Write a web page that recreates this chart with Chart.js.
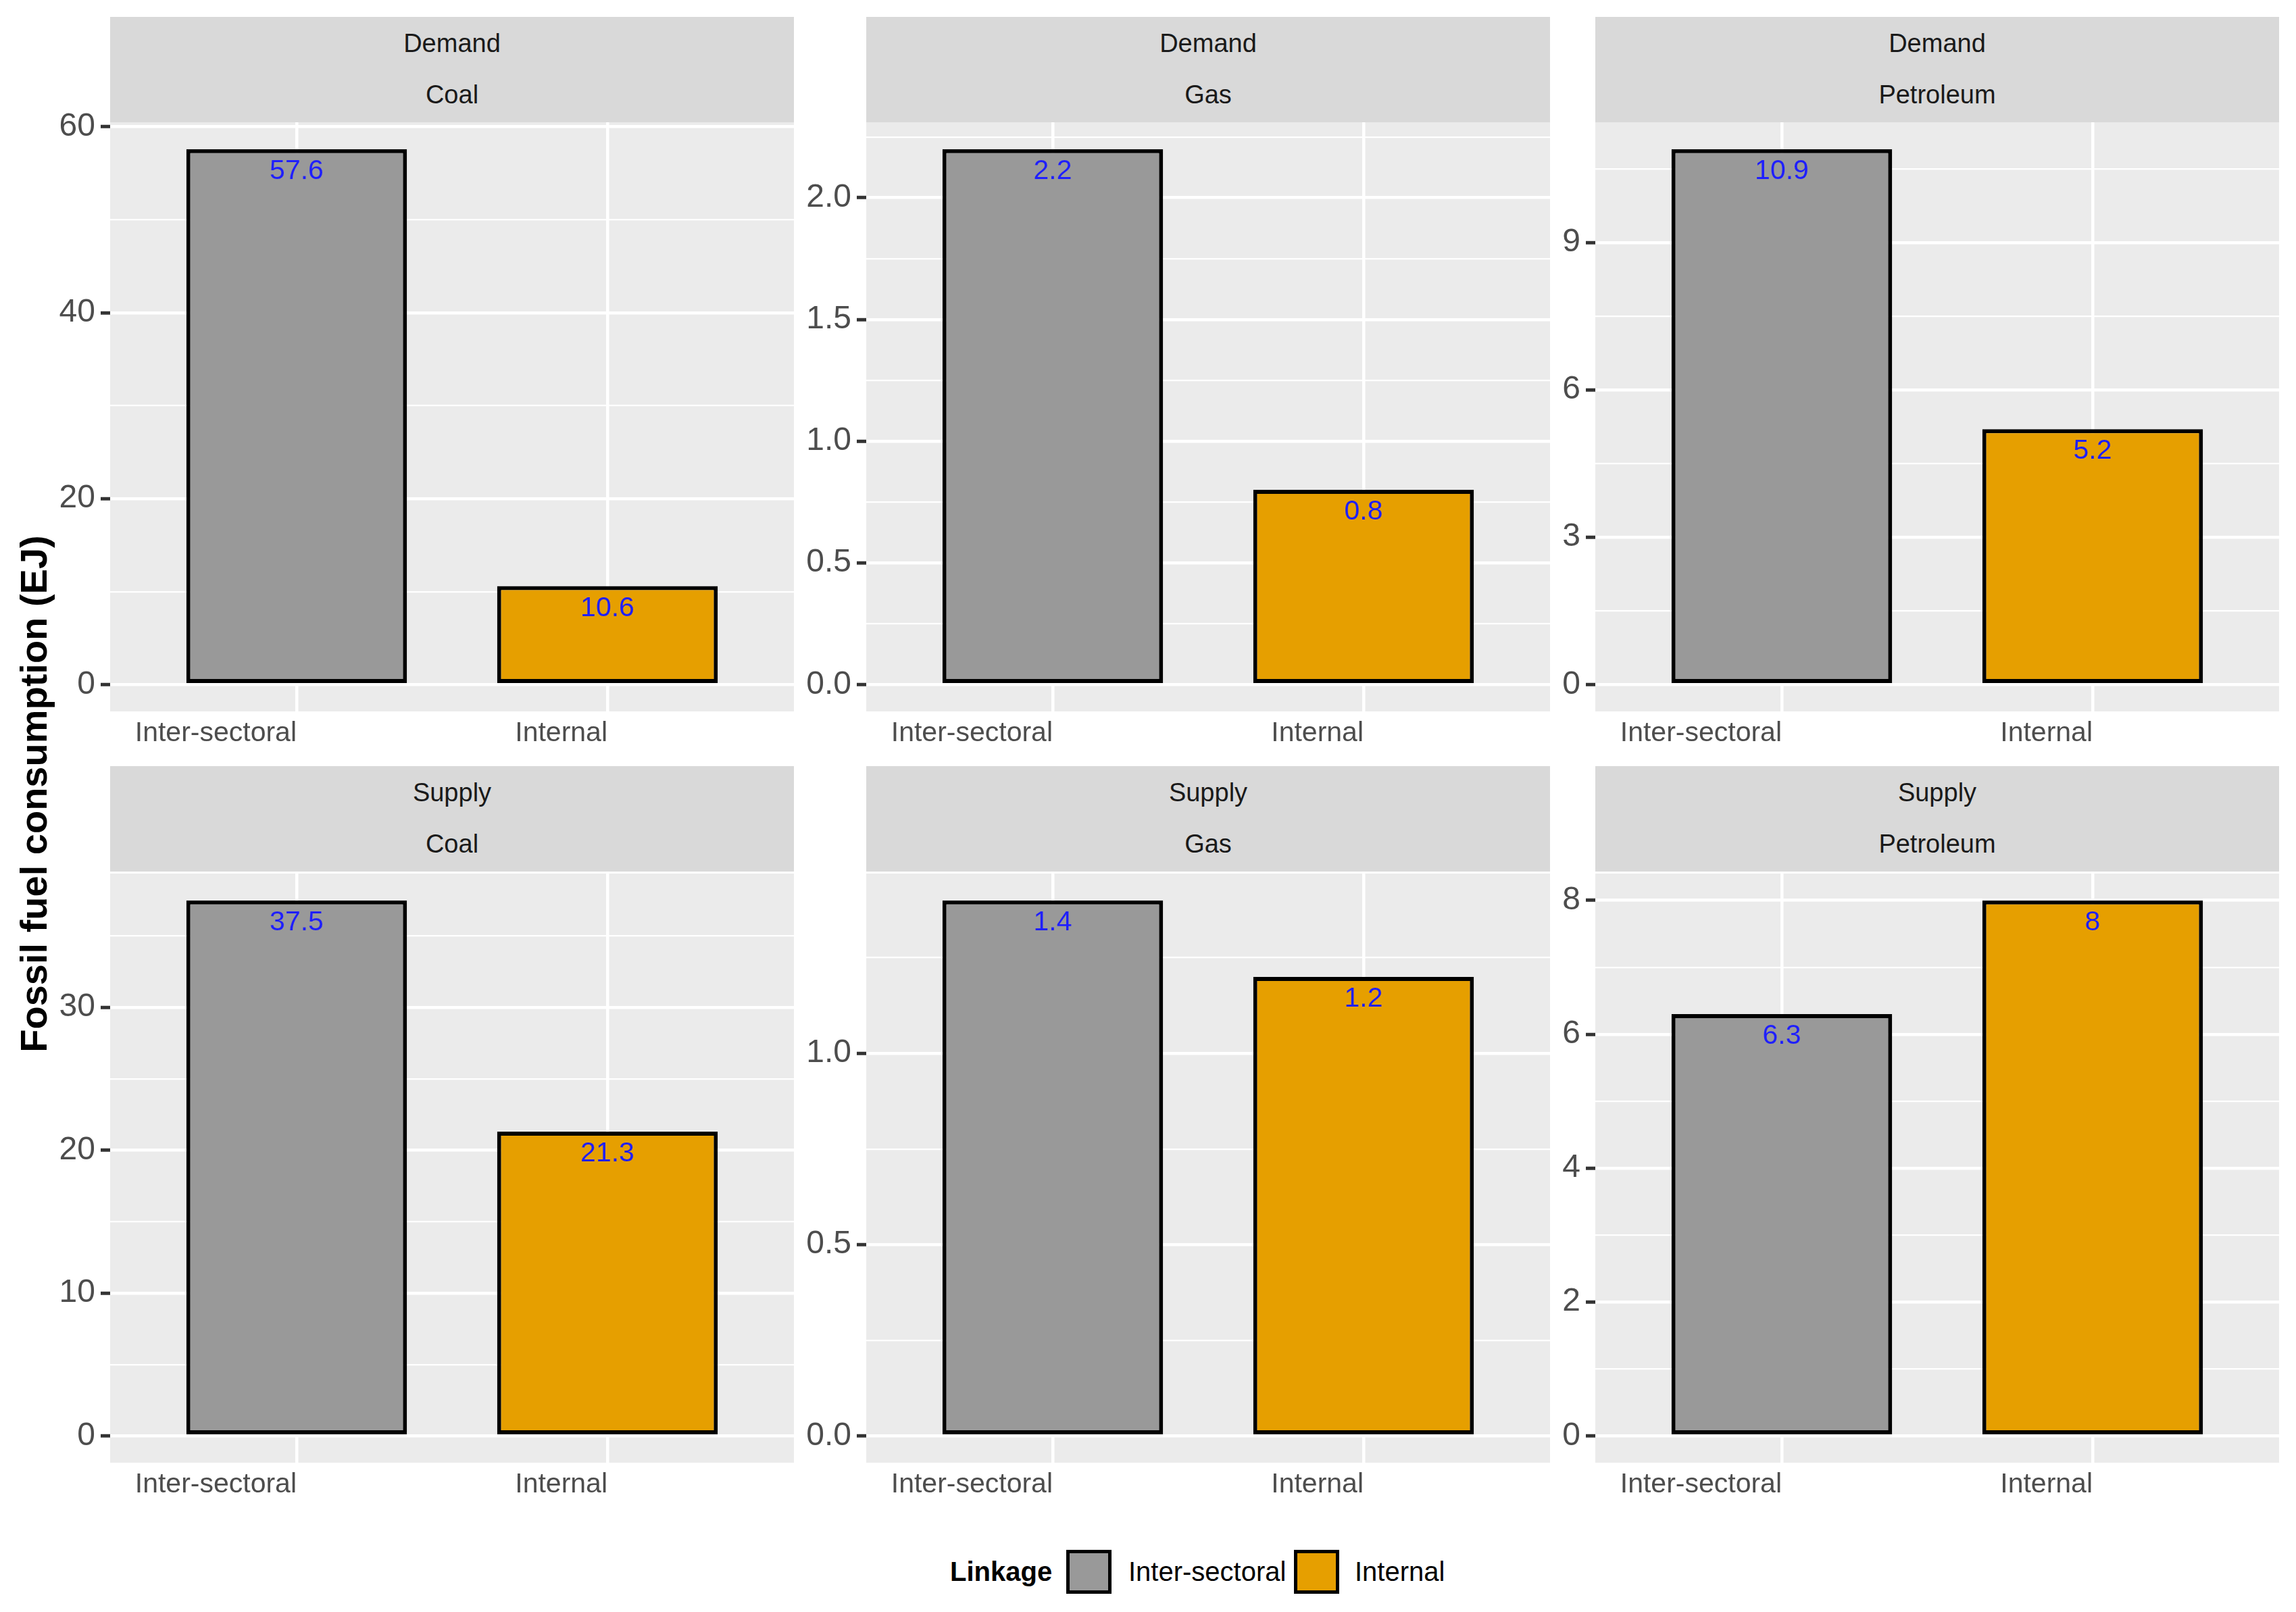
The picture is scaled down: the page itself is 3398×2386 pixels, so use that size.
<!DOCTYPE html>
<html>
<head>
<meta charset="utf-8">
<script src="https://cdn.jsdelivr.net/npm/chart.js@4.4.1/dist/chart.umd.min.js"></script>
<style>
html,body{margin:0;padding:0;background:#ffffff;}
#wrap{position:relative;width:3398px;height:2386px;overflow:hidden;font-family:'Liberation Sans',Arial,sans-serif;background:#fff;}
#wrap canvas{position:absolute;}
.strip{position:absolute;background:#D9D9D9;color:#1A1A1A;font-size:38px;}
.strip .l{position:absolute;left:0;width:100%;text-align:center;height:50px;line-height:50px;white-space:nowrap;}
#ytitle{position:absolute;left:50px;top:1175px;transform:translate(-50%,-50%) rotate(-90deg);font-weight:bold;font-size:56px;color:#000;white-space:nowrap;line-height:1;}
.lg{position:absolute;font-size:40px;color:#000;line-height:50px;height:50px;white-space:nowrap;}
.lgbox{position:absolute;box-sizing:border-box;border:5px solid #000;}
</style>
</head>
<body>
<div id="wrap"><div id="ytitle">Fossil fuel consumption (EJ)</div></div>
<script>
// ---------------- data ----------------
const categories = ['Inter-sectoral', 'Internal'];
const rowNames = ['Demand', 'Supply'];
const fuelNames = ['Coal', 'Gas', 'Petroleum'];
const legendTitle = 'Linkage';

const demandCoal      = [57.6, 10.6];
const demandGas       = [2.2, 0.8];
const demandPetroleum = [10.9, 5.2];
const supplyCoal      = [37.5, 21.3];
const supplyGas       = [1.4, 1.2];
const supplyPetroleum = [6.3, 8];

const demandCoalTicks      = [0, 20, 40, 60];
const demandCoalLabels     = ['0', '20', '40', '60'];
const demandGasTicks       = [0, 0.5, 1.0, 1.5, 2.0];
const demandGasLabels      = ['0.0', '0.5', '1.0', '1.5', '2.0'];
const demandPetroleumTicks = [0, 3, 6, 9];
const demandPetroleumLabels= ['0', '3', '6', '9'];
const supplyCoalTicks      = [0, 10, 20, 30];
const supplyCoalLabels     = ['0', '10', '20', '30'];
const supplyGasTicks       = [0, 0.5, 1.0];
const supplyGasLabels      = ['0.0', '0.5', '1.0'];
const supplyPetroleumTicks = [0, 2, 4, 6, 8];
const supplyPetroleumLabels= ['0', '2', '4', '6', '8'];

// ---------------- styles / layout ----------------
const barColors = ['#999999', '#E69F00'];
const FONT = "'Liberation Sans', Arial, sans-serif";
Chart.defaults.font.family = FONT;

const panelX = [163, 1282, 2361];
const plotTop = [181, 1293];
const stripTop = [25, 1134];
const PW = 1012, PH = 872, SH = 156;
const YAXW = 150, PADTOP = 60, XAXH = 90;

const panels = [
  {row:0, col:0, values:demandCoal, ticks:demandCoalTicks, labels:demandCoalLabels},
  {row:0, col:1, values:demandGas, ticks:demandGasTicks, labels:demandGasLabels},
  {row:0, col:2, values:demandPetroleum, ticks:demandPetroleumTicks, labels:demandPetroleumLabels},
  {row:1, col:0, values:supplyCoal, ticks:supplyCoalTicks, labels:supplyCoalLabels},
  {row:1, col:1, values:supplyGas, ticks:supplyGasTicks, labels:supplyGasLabels},
  {row:1, col:2, values:supplyPetroleum, ticks:supplyPetroleumTicks, labels:supplyPetroleumLabels}
];

const panelBg = {
  id: 'panelBg',
  beforeDraw(chart) {
    const {ctx, chartArea: a} = chart;
    ctx.save();
    ctx.fillStyle = '#EBEBEB';
    ctx.fillRect(a.left, a.top, a.right - a.left, a.bottom - a.top);
    ctx.restore();
  }
};

const valueLabels = {
  id: 'valueLabels',
  afterDatasetsDraw(chart) {
    const ctx = chart.ctx;
    ctx.save();
    ctx.font = '41px ' + FONT;
    ctx.fillStyle = '#1F1FFF';
    ctx.textAlign = 'center';
    ctx.textBaseline = 'middle';
    chart.data.datasets.forEach((ds, di) => {
      const meta = chart.getDatasetMeta(di);
      meta.data.forEach((bar, i) => {
        ctx.fillText(String(ds.data[i].y), bar.x, bar.y + 33);
      });
    });
    ctx.restore();
  }
};

const wrap = document.getElementById('wrap');

panels.forEach(p => {
  const px = panelX[p.col], pt = plotTop[p.row];
  // strip
  const s = document.createElement('div');
  s.className = 'strip';
  s.style.left = px + 'px'; s.style.top = stripTop[p.row] + 'px';
  s.style.width = PW + 'px'; s.style.height = SH + 'px';
  const l1 = document.createElement('div'); l1.className = 'l'; l1.style.top = (39 - 25) + 'px'; l1.textContent = rowNames[p.row];
  const l2 = document.createElement('div'); l2.className = 'l'; l2.style.top = (115 - 25) + 'px'; l2.textContent = fuelNames[p.col];
  s.appendChild(l1); s.appendChild(l2);
  wrap.appendChild(s);

  // canvas
  const cv = document.createElement('canvas');
  const cw = YAXW + PW, ch = PADTOP + PH + XAXH;
  cv.width = cw; cv.height = ch;
  cv.style.width = cw + 'px'; cv.style.height = ch + 'px';
  cv.style.left = (px - YAXW) + 'px'; cv.style.top = (pt - PADTOP) + 'px';
  wrap.appendChild(cv);

  const vmax = Math.max(...p.values);
  const ymin = -0.05 * vmax, ymax = 1.05 * vmax;
  const step = p.ticks[1] - p.ticks[0];
  const minor = [];
  for (let v = p.ticks[0] - step / 2; v <= ymax; v += step) {
    if (v >= ymin && v <= ymax) minor.push(v);
  }
  const majorSet = p.ticks.slice();
  const isMajor = v => majorSet.some(m => Math.abs(m - v) < 1e-9);
  const allTicks = majorSet.concat(minor).sort((a, b) => a - b);

  new Chart(cv, {
    type: 'bar',
    data: {
      datasets: categories.map((c, i) => ({
        label: c,
        data: [{x: i + 1, y: p.values[i]}],
        backgroundColor: barColors[i],
        borderColor: '#000000',
        borderWidth: 6,
        borderSkipped: false,
        grouped: false,
        barPercentage: 1,
        categoryPercentage: 0.71
      }))
    },
    options: {
      responsive: false,
      animation: false,
      devicePixelRatio: 1,
      layout: {padding: {top: PADTOP, left: 0, right: 0, bottom: 0}},
      plugins: {legend: {display: false}, tooltip: {enabled: false}},
      scales: {
        x: {
          type: 'linear', min: 0.4, max: 2.6, offset: false,
          afterBuildTicks(sc) { sc.ticks = categories.map((c, i) => ({value: i + 1})); },
          afterFit(sc) { sc.height = XAXH; },
          grid: {color: '#FFFFFF', lineWidth: 4.5, drawTicks: false, offset: false},
          border: {display: false},
          ticks: {
            align: 'end', padding: 8, color: '#4D4D4D', font: {size: 41},
            autoSkip: false, maxRotation: 0, minRotation: 0,
            callback: v => categories[Math.round(v) - 1]
          }
        },
        y: {
          type: 'linear', min: ymin, max: ymax,
          afterBuildTicks(sc) { sc.ticks = allTicks.map(v => ({value: v})); },
          afterFit(sc) { sc.width = YAXW; },
          grid: {
            color: '#FFFFFF',
            lineWidth: c => (c.tick && isMajor(c.tick.value)) ? 4.5 : 2.2,
            tickColor: c => (c.tick && isMajor(c.tick.value)) ? '#333333' : 'rgba(0,0,0,0)',
            tickLength: 14, tickWidth: 5
          },
          border: {display: false},
          ticks: {
            padding: 8, color: '#4D4D4D', font: {size: 48}, autoSkip: false,
            callback: v => {
              const k = majorSet.findIndex(m => Math.abs(m - v) < 1e-9);
              return k >= 0 ? p.labels[k] : '';
            }
          }
        }
      }
    },
    plugins: [panelBg, valueLabels]
  });
});

// legend
function addLg(text, left, bold) {
  const d = document.createElement('div');
  d.className = 'lg'; d.textContent = text;
  d.style.left = left + 'px'; d.style.top = (2326 - 25) + 'px';
  if (bold) d.style.fontWeight = 'bold';
  wrap.appendChild(d);
}
function addBox(left, color) {
  const b = document.createElement('div');
  b.className = 'lgbox';
  b.style.left = left + 'px'; b.style.top = '2294px';
  b.style.width = '67px'; b.style.height = '65px';
  b.style.background = color;
  wrap.appendChild(b);
}
addLg(legendTitle, 1406, true);
addBox(1578, barColors[0]);
addLg(categories[0], 1670, false);
addBox(1915, barColors[1]);
addLg(categories[1], 2005, false);
</script>
</body>
</html>
